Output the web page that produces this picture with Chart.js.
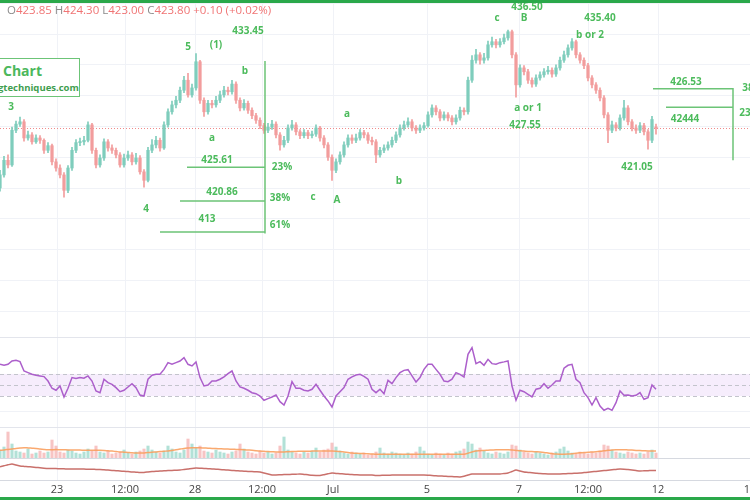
<!DOCTYPE html>
<html lang="en">
<head>
<meta charset="UTF-8">
<title>Elliott wave chart</title>
<script src="https://cdn.jsdelivr.net/npm/chart.js"></script>
<style>
  body { margin: 0; width: 750px; height: 500px; overflow: hidden; background: #fff; position: relative; font-family: "Open Sans", sans-serif; }
  .pane { position: absolute; left: 0; width: 750px; }
  .sep { position: absolute; left: 0; width: 750px; height: 1px; background: #e3e5ec; }
  .green { position: absolute; left: 0; width: 750px; height: 3px; background: #2aa84a; z-index: 3; }
  #ohlc { position: absolute; top: 2px; left: 7px; font-size: 11.5px; color: #f07474; white-space: nowrap; z-index: 2; }
  #ohlc span { color: #8b8b8b; }
  #logo { position: absolute; left: -3px; top: 58px; width: 81px; height: 37px; border: 1.5px solid #6cc477; background: #fff; z-index: 2; }
  #logo .t1 { position: absolute; left: 5px; top: 2px; font-size: 14px; font-weight: bold; color: #4cb85c; }
  #logo .t2 { position: absolute; left: 0px; top: 22px; font-size: 9.5px; font-weight: bold; color: #3f9e4f; white-space: nowrap; }
</style>
</head>
<body>
<div class="green" style="top:0"></div>
<div id="ohlc"><span>O</span>423.85 <span>H</span>424.30 <span>L</span>423.00 <span>C</span>423.80 +0.10 (+0.02%)</div>
<div id="logo"><div class="t1">Chart</div><div class="t2">gtechniques.com</div></div>

<div class="pane" style="top:0;height:337px"><canvas id="priceChart"></canvas></div>
<div class="sep" style="top:337px"></div>
<div class="pane" style="top:338px;height:89px"><canvas id="rsiChart"></canvas></div>
<div class="sep" style="top:427px"></div>
<div class="pane" style="top:428px;height:30px"><canvas id="volChart"></canvas></div>
<div class="sep" style="top:458px;background:#d6d9e0"></div>
<div class="pane" style="top:459px;height:38px"><canvas id="lineChart"></canvas></div>
<div class="sep" style="top:480px;background:#d6d9e0"></div>
<div class="green" style="top:497px"></div>

<script>
    // time axis (bar index) and its labels
    const tickBars = [14.25, 31.25, 48.75, 65.5, 83.25, 106.75, 129.75, 147, 164.5, 187.5];
    const tickLabels = ['23', '12:00', '28', '12:00', 'Jul', '5', '7', '12:00', '12', '13'];
    const priceGrid = [400, 404, 408, 412, 416, 420, 424, 428, 432, 436, 440];

    const opens = [
        416.0,417.7,419.6,419.0,423.5,424.3,424.6,422.5,422.9,422.0,
        422.5,422.2,420.9,421.5,419.4,418.6,417.7,415.7,418.6,420.9,
        421.9,422.0,422.2,424.2,420.9,419.0,419.9,422.0,421.2,420.9,
        420.3,419.0,419.9,420.3,419.4,419.9,418.1,417.0,420.9,421.6,
        422.2,421.2,424.2,425.9,426.8,427.4,428.7,430.0,428.1,429.0,
        432.4,427.4,425.9,427.0,426.8,427.4,428.1,428.7,428.5,429.5,
        427.4,426.4,427.0,426.1,425.4,424.8,424.1,423.5,423.9,424.3,
        422.9,421.6,422.2,423.8,424.2,423.3,422.8,423.2,422.8,423.0,
        423.8,422.5,421.6,420.0,418.3,419.4,420.3,421.6,422.5,422.2,
        422.5,423.2,422.9,422.2,422.0,420.3,420.9,421.2,421.6,422.2,
        422.9,423.8,424.2,424.6,423.8,423.5,423.8,424.1,425.5,426.4,
        425.9,425.1,425.5,425.1,424.6,425.1,426.1,425.9,430.0,432.6,
        433.3,432.6,432.9,434.6,435.0,434.6,435.0,435.5,436.3,433.3,
        429.4,431.6,431.1,430.0,429.5,430.3,430.7,431.1,431.3,430.8,
        431.6,432.6,433.3,434.2,435.0,433.3,432.6,431.9,430.3,429.4,
        428.7,427.7,425.5,423.5,424.2,423.8,425.1,426.4,424.6,423.8,
        423.5,424.1,423.3,422.2,423.85
    ];
    const highs = [
        418.3,420.1,420.3,423.9,424.7,425.2,424.9,423.4,423.2,422.9,
        422.8,422.4,421.9,421.7,419.8,419.0,418.0,418.9,421.3,422.3,
        422.5,422.7,424.6,424.4,421.2,420.3,422.4,422.3,421.6,421.2,
        420.6,420.4,420.8,420.6,420.5,420.2,418.4,421.3,422.3,422.7,
        422.5,424.6,426.3,427.3,427.9,429.1,430.5,430.9,429.5,433.45,
        432.6,427.7,427.4,427.4,427.9,428.6,429.2,429.1,430.0,429.8,
        427.7,427.5,427.3,426.4,425.7,425.1,424.4,424.4,424.8,424.6,
        423.2,422.7,424.2,424.8,424.5,423.6,423.6,423.5,423.4,424.2,
        424.0,422.8,421.9,420.3,419.8,420.7,422.0,422.9,422.9,423.0,
        423.6,423.5,423.2,422.6,422.3,421.3,421.6,422.0,422.6,423.3,
        424.2,424.7,425.1,424.9,424.1,424.2,424.5,425.9,426.8,426.7,
        426.2,425.9,425.8,425.4,425.5,426.5,426.4,430.4,433.2,434.0,
        433.6,433.5,435.1,435.6,435.3,435.4,436.0,436.5,436.5,433.6,
        432.0,431.9,431.4,430.3,430.7,431.1,431.5,431.8,431.6,432.0,
        433.0,433.8,434.6,435.4,435.2,433.6,432.9,432.2,430.6,429.7,
        429.0,428.0,425.8,424.7,424.5,425.5,427.4,426.7,424.9,424.2,
        424.5,424.4,423.6,425.3,424.3
    ];
    const lows = [
        415.6,417.4,418.6,418.8,423.2,424.0,422.1,422.2,421.7,421.8,
        421.8,420.5,420.6,419.0,418.2,417.3,414.8,415.4,418.3,420.6,
        421.5,421.6,422.0,420.5,418.6,418.7,419.6,420.8,420.5,419.9,
        418.7,418.7,419.6,419.0,419.1,417.8,416.1,416.8,420.6,421.2,
        420.8,421.0,423.9,425.6,426.4,427.1,428.4,427.8,427.8,428.7,
        427.0,425.3,425.6,426.4,426.5,427.1,427.8,428.1,428.2,427.0,
        426.0,426.1,425.7,425.0,424.4,423.7,423.1,423.2,423.6,422.5,
        420.9,421.3,421.9,423.5,422.9,422.4,422.5,422.4,422.5,422.7,
        422.1,421.2,419.6,417.0,418.0,419.1,420.0,421.3,421.8,421.9,
        422.2,422.5,421.8,421.6,419.3,420.0,420.6,420.9,421.3,421.9,
        422.6,423.5,423.9,423.4,423.1,423.2,423.5,423.9,425.2,425.5,
        424.7,424.8,424.7,424.2,424.3,424.8,425.5,425.6,429.7,432.2,
        432.1,432.2,432.6,434.3,434.2,434.3,434.7,435.2,432.9,427.8,
        429.1,430.7,429.6,429.1,429.2,430.0,430.4,430.8,430.4,430.5,
        431.3,432.3,433.0,433.9,432.9,432.2,431.5,429.9,429.0,428.3,
        427.3,425.1,421.9,423.2,423.4,423.5,424.8,424.2,423.4,423.1,
        423.2,422.9,421.05,421.9,423.0
    ];
    const closes = [
        417.7,419.6,419.0,423.5,424.3,424.6,422.5,422.9,422.0,422.5,
        422.2,420.9,421.5,419.4,418.6,417.7,415.7,418.6,420.9,421.9,
        422.0,422.2,424.2,420.9,419.0,419.9,422.0,421.2,420.9,420.3,
        419.0,419.9,420.3,419.4,419.9,418.1,417.0,420.9,421.6,422.2,
        421.2,424.2,425.9,426.8,427.4,428.7,430.0,428.1,429.0,432.4,
        427.4,425.9,427.0,426.8,427.4,428.1,428.7,428.5,429.5,427.4,
        426.4,427.0,426.1,425.4,424.8,424.1,423.5,423.9,424.3,422.9,
        421.6,422.2,423.8,424.2,423.3,422.8,423.2,422.8,423.0,423.8,
        422.5,421.6,420.0,418.3,419.4,420.3,421.6,422.5,422.2,422.5,
        423.2,422.9,422.2,422.0,420.3,420.9,421.2,421.6,422.2,422.9,
        423.8,424.2,424.6,423.8,423.5,423.8,424.1,425.5,426.4,425.9,
        425.1,425.5,425.1,424.6,425.1,426.1,425.9,430.0,432.6,433.3,
        432.6,432.9,434.6,435.0,434.6,435.0,435.5,436.3,433.3,429.4,
        431.6,431.1,430.0,429.5,430.3,430.7,431.1,431.3,430.8,431.6,
        432.6,433.3,434.2,435.0,433.3,432.6,431.9,430.3,429.4,428.7,
        427.7,425.5,423.5,424.2,423.8,425.1,426.4,424.6,423.8,423.5,
        424.1,423.3,422.2,424.9,423.8
    ];

    const rsi = [
        68.8,67.9,68.8,71.8,72.4,71.2,62.7,61.2,59.7,58.8,
        58.2,57.6,53.6,47.0,45.2,49.1,39.1,47.0,56.7,55.8,
        56.7,56.1,58.2,53.6,44.5,43.0,55.2,52.1,50.6,47.6,
        43.9,45.2,48.2,51.2,47.6,40.9,40.0,55.2,58.8,59.7,
        59.7,64.2,70.3,68.8,70.3,71.8,74.8,68.8,67.3,71.0,
        56.7,49.1,50.0,53.6,53.6,55.2,57.3,60.3,62.7,53.6,
        48.2,47.0,45.2,43.0,42.1,40.0,36.1,37.6,39.1,40.9,
        34.8,31.8,40.0,53.0,47.0,47.0,45.2,44.5,46.1,50.6,
        45.2,40.0,35.5,30.0,40.0,43.9,47.6,55.2,57.3,59.1,
        59.7,57.9,55.2,46.1,43.0,46.1,42.1,54.2,51.2,56.7,
        61.2,63.3,63.9,58.2,52.7,56.7,64.2,68.8,68.8,64.2,
        59.7,53.6,53.0,55.2,61.2,59.7,57.3,77.9,83.9,69.4,
        71.2,67.9,73.3,69.4,68.8,70.3,71.0,71.8,49.1,36.1,
        45.2,43.9,41.5,39.1,46.1,47.0,51.2,47.0,50.0,53.6,
        53.6,65.2,67.9,68.8,55.2,52.1,43.0,38.5,31.8,38.5,
        30.9,27.0,28.8,27.0,33.9,44.5,40.6,40.9,40.0,40.6,
        43.0,37.0,38.5,50.0,46.1
    ];
    const rsiLevels = [60, 50, 40];

    const volumes = [
        8,11,26,14,7,6,5,9,4,5,  7,5,6,18,12,6,5,8,7,5,
        4,6,9,7,12,6,5,7,4,5,  6,8,5,4,6,7,9,12,8,6,
        5,7,12,9,6,5,8,19,14,10,  12,7,6,5,8,6,5,4,6,7,
        14,9,6,5,4,7,5,6,4,5,  12,21,8,6,5,4,6,5,7,10,
        6,8,9,15,11,7,5,4,6,5,  4,5,3,4,6,10,5,4,6,5,
        4,3,5,4,6,11,7,4,3,5,  4,3,5,4,6,7,9,16,14,8,
        10,7,5,4,6,5,4,6,13,12,  8,6,5,4,6,5,4,3,5,6,
        9,11,7,5,4,6,5,4,6,5,  7,13,12,8,6,5,4,6,5,4,
        5,4,6,8,5
    ];
    const volumeMa = [
        7.7,8.1,8.6,9.1,9.6,10.0,10.3,10.1,9.8,9.5,  9.0,8.6,8.3,8.3,8.4,8.3,8.2,8.1,8.0,7.9,
        7.9,7.8,7.8,7.8,7.7,7.7,7.5,7.2,6.9,6.5,  6.1,5.8,5.5,5.2,5.0,5.0,5.1,5.4,5.8,6.1,
        6.5,6.8,7.0,7.5,8.2,8.9,9.6,10.0,10.3,10.3,  10.2,10.0,9.8,9.6,9.4,9.2,9.0,8.9,8.7,8.6,
        8.5,8.3,8.0,7.7,7.3,7.0,6.7,6.4,6.2,6.0,  6.0,6.0,6.3,6.5,6.6,6.7,6.8,6.8,6.9,7.0,
        7.0,7.0,7.0,7.0,6.8,6.5,6.0,5.5,5.0,4.7,  4.5,4.4,4.3,4.0,3.7,3.7,3.7,3.7,3.7,3.7,
        3.7,3.7,3.7,3.7,3.7,3.7,3.7,3.7,3.7,3.7,  3.7,3.7,3.7,3.7,3.7,3.7,3.8,4.8,6.0,7.0,
        7.3,7.6,7.8,8.0,8.2,8.3,8.3,8.2,8.0,7.6,  7.2,6.9,6.6,6.4,6.2,6.0,5.6,5.0,4.4,3.9,
        3.7,3.7,3.9,4.3,4.8,5.2,5.5,5.7,6.0,6.3,  6.7,7.2,7.7,8.1,8.3,8.3,8.3,8.1,7.9,7.6,
        7.4,7.2,7.0,7.0,7.0
    ];
    const lowerLine = [
        13.3,14.2,15.2,16.0,15.0,14.0,13.6,13.3,13.0,12.6,  12.2,11.8,11.5,11.6,11.4,11.3,11.2,11.0,11.1,11.0,
        11.0,10.9,10.8,10.8,10.6,10.5,10.2,9.9,9.6,9.3,  9.0,8.7,8.4,8.0,7.8,7.5,7.6,8.0,8.4,8.7,
        9.0,9.2,9.4,9.6,9.8,10.0,10.5,11.0,11.6,12.0,  11.8,11.5,11.3,11.0,10.8,10.5,10.2,9.9,9.6,9.3,
        9.0,8.8,8.6,8.4,8.2,8.0,7.0,6.0,5.0,5.0,  5.2,5.4,5.5,5.7,5.8,6.0,5.6,5.2,4.8,4.6,
        4.5,5.3,6.2,7.0,6.6,6.3,6.0,5.7,5.4,5.2,  5.0,5.0,5.0,5.0,4.5,4.6,4.7,4.8,4.9,5.0,
        5.0,5.0,5.0,5.0,5.0,5.0,5.0,4.8,4.5,4.2,  4.0,3.8,3.6,3.4,3.2,3.0,3.8,5.0,6.0,6.0,
        6.0,6.0,6.0,6.0,6.0,6.0,6.5,7.0,8.5,10.0,  9.0,8.0,7.6,7.2,6.8,6.4,6.2,6.0,6.0,6.0,
        6.0,6.2,6.4,6.6,6.8,7.0,7.4,7.8,8.2,8.6,  9.0,9.4,9.8,10.2,10.6,11.0,10.8,10.4,10.0,9.5,
        9.0,9.2,9.3,9.6,9.5
    ];

    // hand drawn wave marks: [text, bar, price]
    const waveLabels = [
        ['3', 2.75, 426.5], ['4', 36.5, 413.3], ['5', 47, 434.3], ['(1)', 54, 434.6],
        ['433.45', 62, 436.4], ['b', 61.25, 431.2], ['a', 53, 422.5],
        ['425.61', 54.25, 419.6], ['420.86', 55.5, 415.4], ['413', 51.75, 412.0],
        ['23%', 70.5, 418.7], ['38%', 70, 414.7], ['61%', 70, 411.2],
        ['c', 78.25, 414.8], ['A', 84.25, 414.4], ['a', 86.75, 425.6], ['b', 99.75, 416.9],
        ['c', 124.25, 438.1], ['436.50', 131.75, 439.5], ['B', 131, 438.0],
        ['a or 1', 132, 426.4], ['427.55', 131.25, 424.1],
        ['435.40', 150, 438.0], ['b or 2', 147.5, 435.9], ['421.05', 159.25, 418.7],
        ['426.53', 171.5, 429.8], ['42444', 171.25, 425.0], ['38', 187, 429.0], ['23', 186.25, 425.7]
    ];
    // retracement lines: [fromBar, toBar, price] and stems: [bar, topPrice, bottomPrice]
    const fibLevels = [[46.75, 66.25, 418.7], [45, 66.25, 414.3], [40, 66.25, 410.3], [163.25, 183.25, 428.9], [166.5, 183.25, 426.5]];
    const fibStems = [[66.25, 432.5, 410.1], [183.25, 429.0, 419.6]];

    Chart.defaults.font.family = '"Open Sans", sans-serif';
    Chart.defaults.animation = false;

    const bars = closes.map((c, i) => i);
    const candleColors = bars.map(i => closes[i] >= opens[i] ? '#7fcdbc' : '#f29d9d');
    const volumeColors = bars.map(i => closes[i] >= opens[i] ? 'rgba(127,205,188,0.6)' : 'rgba(242,157,157,0.6)');

    function xScale() {
        return {
            type: 'linear', min: 0, max: 187.5, offset: false,
            afterBuildTicks: s => { s.ticks = tickBars.map(v => ({ value: v })); },
            afterFit: s => { s.height = 0; },
            ticks: { display: false },
            grid: { color: '#f0f2f7', drawTicks: false, offset: false },
            border: { display: false }
        };
    }
    function yScale(min, max, grid) {
        return {
            min: min, max: max, position: 'right',
            afterBuildTicks: s => { s.ticks = grid.map(v => ({ value: v })); },
            afterFit: s => { s.width = 0; },
            ticks: { display: false },
            grid: { color: '#f0f2f7', drawTicks: false },
            border: { display: false }
        };
    }
    function baseOptions(yMin, yMax, grid, padBottom) {
        return {
            responsive: true, maintainAspectRatio: false, events: [],
            layout: { padding: { left: 0, right: 0, top: 0, bottom: padBottom || 0 } },
            plugins: { legend: { display: false }, tooltip: { enabled: false } },
            scales: { x: xScale(), y: yScale(yMin, yMax, grid) }
        };
    }

    const priceOverlay = {
        id: 'priceOverlay',
        beforeDatasetsDraw(chart) {
            const { ctx, chartArea, scales: { y } } = chart;
            const py = Math.round(y.getPixelForValue(closes[closes.length - 1])) + 0.5;
            ctx.save();
            ctx.strokeStyle = '#f08a8a';
            ctx.lineWidth = 1;
            ctx.setLineDash([1, 2]);
            ctx.beginPath();
            ctx.moveTo(chartArea.left, py);
            ctx.lineTo(chartArea.right, py);
            ctx.stroke();
            ctx.restore();
        },
        afterDatasetsDraw(chart) {
            const { ctx, scales: { x, y } } = chart;
            ctx.save();
            ctx.strokeStyle = '#6cc477';
            ctx.lineWidth = 1.5;
            ctx.beginPath();
            fibLevels.forEach(([b0, b1, p]) => {
                ctx.moveTo(x.getPixelForValue(b0), y.getPixelForValue(p));
                ctx.lineTo(x.getPixelForValue(b1), y.getPixelForValue(p));
            });
            fibStems.forEach(([b, p0, p1]) => {
                ctx.moveTo(x.getPixelForValue(b), y.getPixelForValue(p0));
                ctx.lineTo(x.getPixelForValue(b), y.getPixelForValue(p1));
            });
            ctx.stroke();
            ctx.fillStyle = '#4cbb5c';
            ctx.font = 'bold 10px "Open Sans"';
            ctx.textAlign = 'center';
            ctx.textBaseline = 'middle';
            waveLabels.forEach(([t, b, p]) => ctx.fillText(t, x.getPixelForValue(b), y.getPixelForValue(p)));
            ctx.restore();
        }
    };

    new Chart(document.getElementById('priceChart'), {
        type: 'bar',
        data: {
            datasets: [{
                data: bars.map(i => ({ x: i, y: [lows[i], highs[i]] })),
                backgroundColor: candleColors,
                barThickness: 1,
                grouped: false
            }, {
                data: bars.map(i => ({ x: i, y: [opens[i], closes[i]] })),
                backgroundColor: candleColors,
                barThickness: 2.6,
                minBarLength: 1,
                grouped: false
            }]
        },
        options: baseOptions(396.65, 440.42, priceGrid),
        plugins: [priceOverlay]
    });

    const rsiBand = {
        id: 'rsiBand',
        beforeDatasetsDraw(chart) {
            const { ctx, chartArea, scales: { y } } = chart;
            const top = y.getPixelForValue(rsiLevels[0]);
            const bottom = y.getPixelForValue(rsiLevels[2]);
            ctx.save();
            ctx.fillStyle = 'rgba(196,140,236,0.16)';
            ctx.fillRect(chartArea.left, top, chartArea.right - chartArea.left, bottom - top);
            ctx.strokeStyle = '#c3c4cc';
            ctx.lineWidth = 1;
            ctx.setLineDash([4, 3]);
            ctx.beginPath();
            rsiLevels.forEach(v => {
                const py = Math.round(y.getPixelForValue(v)) + 0.5;
                ctx.moveTo(chartArea.left, py);
                ctx.lineTo(chartArea.right, py);
            });
            ctx.stroke();
            ctx.restore();
        }
    };

    new Chart(document.getElementById('rsiChart'), {
        type: 'line',
        data: {
            datasets: [{
                data: rsi.map((v, i) => ({ x: i, y: v })),
                borderColor: '#ac5fcb',
                borderWidth: 1.5,
                pointRadius: 0,
                tension: 0
            }]
        },
        options: baseOptions(11.8, 92.7, [26]),
        plugins: [rsiBand]
    });

    new Chart(document.getElementById('volChart'), {
        data: {
            datasets: [{
                type: 'line',
                data: volumeMa.map((v, i) => ({ x: i, y: v })),
                borderColor: 'rgba(250,160,95,0.9)',
                borderWidth: 1.5,
                pointRadius: 0,
                tension: 0.3
            }, {
                type: 'bar',
                data: volumes.map((v, i) => ({ x: i, y: v })),
                backgroundColor: volumeColors,
                barThickness: 2.4
            }]
        },
        options: baseOptions(0, 30, [])
    });

    const timeLabels = {
        id: 'timeLabels',
        afterDraw(chart) {
            const { ctx, chartArea, scales: { x } } = chart;
            ctx.save();
            ctx.fillStyle = '#454545';
            ctx.font = '11px "Open Sans"';
            ctx.textAlign = 'center';
            ctx.textBaseline = 'middle';
            tickBars.forEach((b, i) => ctx.fillText(tickLabels[i], x.getPixelForValue(b), chartArea.bottom + 10));
            ctx.restore();
        }
    };

    new Chart(document.getElementById('lineChart'), {
        type: 'line',
        data: {
            datasets: [{
                data: lowerLine.map((v, i) => ({ x: i, y: v })),
                borderColor: '#c9706b',
                borderWidth: 1.5,
                pointRadius: 0,
                tension: 0.2
            }]
        },
        options: baseOptions(0, 21, [], 17),
        plugins: [timeLabels]
    });
</script>
</body>
</html>
